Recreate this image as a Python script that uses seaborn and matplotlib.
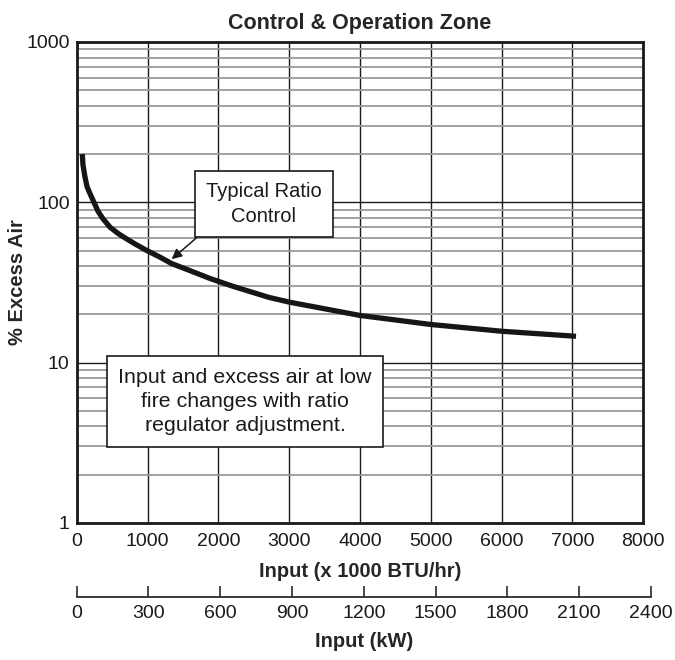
import numpy as np
import pandas as pd
import seaborn as sns
import matplotlib.pyplot as plt
from matplotlib.ticker import LogLocator, NullFormatter, FixedLocator

# --- data ---
input_btu = [79, 89, 117, 145, 174, 244, 301, 371, 470, 583, 682, 823, 992, 1176,
             1340, 1599, 1882, 2200, 2718, 3011, 4000, 5000, 6000, 7050]
excess_air = [200, 171, 144, 126, 117, 100, 88, 79, 70, 64, 60, 55, 50, 45.5,
              41.5, 37.5, 33.5, 30, 25.5, 23.8, 19.7, 17.3, 15.7, 14.6]

btu_ticks = [0, 1000, 2000, 3000, 4000, 5000, 6000, 7000, 8000]
kw_ticks = [0, 300, 600, 900, 1200, 1500, 1800, 2100, 2400]
y_ticks = [1, 10, 100, 1000]
y_labels = ["1", "10", "100", "1000"]

df = pd.DataFrame({"btu": input_btu, "air": excess_air})

sns.set_style("white")
plt.rcParams["font.family"] = ["Liberation Sans", "DejaVu Sans"]

fig = plt.figure(figsize=(6.75, 6.6), dpi=100)
ax = fig.add_axes([0.1136, 0.2076, 0.8394, 0.7288])

sns.lineplot(data=df, x="btu", y="air", ax=ax, color="#161616", lw=3.8,
             solid_capstyle="butt", solid_joinstyle="round", zorder=5)

ax.set_yscale("log")
ax.set_xlim(0, 8000)
ax.set_ylim(1, 1000)
ax.set_xticks(btu_ticks)
ax.set_xticklabels([str(t) for t in btu_ticks])
ax.set_yticks(y_ticks)
ax.set_yticklabels(y_labels)
ax.yaxis.set_minor_locator(LogLocator(base=10, subs=np.arange(2, 10)))
ax.yaxis.set_minor_formatter(NullFormatter())
ax.tick_params(axis="both", which="both", length=0, labelsize=14, colors="#1a1a1a")
ax.tick_params(axis="x", pad=7)
ax.tick_params(axis="y", pad=5)

ax.grid(True, which="minor", axis="y", color="#9a9a9a", lw=1.3)
ax.grid(True, which="major", axis="y", color="#1a1a1a", lw=1.0)
ax.grid(True, which="major", axis="x", color="#1a1a1a", lw=1.0)
ax.set_axisbelow(True)
for s in ax.spines.values():
    s.set_visible(True)
    s.set_linewidth(2.0)
    s.set_color("#1a1a1a")

ax.set_xlabel("Input (x 1000 BTU/hr)", fontsize=14.5, fontweight="bold", labelpad=9)
ax.set_ylabel("% Excess Air", fontsize=14.5, fontweight="bold")
ax.yaxis.set_label_coords(-0.088, 0.5)
ax.set_title("Control & Operation Zone", fontsize=15.5, fontweight="bold", pad=9)

ax.annotate("Typical Ratio\nControl", xy=(1341, 44.2), xytext=(2644, 97.6),
            ha="center", va="center", fontsize=14.5, color="#1a1a1a", linespacing=1.35,
            bbox=dict(boxstyle="square,pad=0.55", fc="white", ec="#1a1a1a", lw=1.2),
            arrowprops=dict(arrowstyle="-|>", color="#1a1a1a", lw=1.1,
                            mutation_scale=15, relpos=(0.04, 0.0), shrinkA=0, shrinkB=0),
            zorder=6)

ax.text(2377, 5.71, "Input and excess air at low\nfire changes with ratio\nregulator adjustment.",
        ha="center", va="center", fontsize=15.4, color="#1a1a1a", linespacing=1.35,
        bbox=dict(boxstyle="square,pad=0.55", fc="white", ec="#1a1a1a", lw=1.2), zorder=6)

# second scale in kW
kw_width = (651 - 76.7) / 675
ax2 = fig.add_axes([0.1136, 0.0955, kw_width, 0.0001])
ax2.set_xlim(0, 2400)
ax2.set_yticks([])
ax2.xaxis.set_major_locator(FixedLocator(kw_ticks))
ax2.set_xticklabels([str(t) for t in kw_ticks])
for name in ["top", "left", "right"]:
    ax2.spines[name].set_visible(False)
ax2.spines["bottom"].set_linewidth(1.2)
ax2.spines["bottom"].set_color("#1a1a1a")
ax2.patch.set_visible(False)
ax2.tick_params(axis="x", bottom=True, direction="in", length=8, width=1.1, labelsize=14,
                colors="#1a1a1a", pad=6)
ax2.set_xlabel("Input (kW)", fontsize=14.5, fontweight="bold", labelpad=7)

fig.savefig("out.png", dpi=100)
